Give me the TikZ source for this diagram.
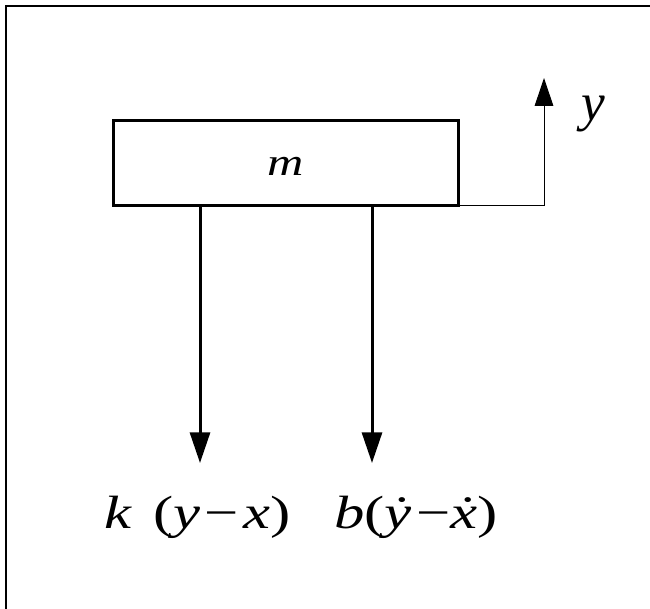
\documentclass[tikz,border=0pt]{standalone}
\usepackage{fontspec}
\setmainfont{Liberation Serif}
\newfontfamily\widefont[FakeStretch=1.3]{Liberation Serif}
\usetikzlibrary{arrows.meta}

\tikzset{
  force/.style={line width=2.25pt, -{Triangle[length=23pt,width=15pt]}},
  disp/.style={line width=0.75pt, -{Triangle[length=21pt,width=14pt]}},
  lbl/.style={inner sep=0pt, anchor=base west, font=\widefont\fontsize{35}{40}\selectfont}
}

\begin{document}
\begin{tikzpicture}[x=0.75pt,y=0.75pt,yscale=-1,xscale=1]
\useasboundingbox (0,0) rectangle (650,609);

%Straight Lines [frame]
\draw [line width=1.9pt]  (6,609) -- (6,6) -- (650,6) ;

%Shape: Rectangle [mass]
\node [draw, line width=2.25pt, outer sep=0pt, minimum width=258.75pt, minimum height=63.75pt, inner sep=0pt] (mass) at (285.5,163.5) {};
% Text Node
\node [inner sep=0pt, font=\widefont\fontsize{29}{32}\selectfont\itshape] (mlbl) at (285.5,166) {m};

\coordinate (kend) at (200,463);
\coordinate (bend) at (372,463);
\coordinate (ycorner) at (544,206);
\coordinate (ytip) at (544,78);

%Straight Lines [spring force]
\draw [force]  (kend |- mass.south) -- (kend) ;
%Straight Lines [damper force]
\draw [force]  (bend |- mass.south) -- (bend) ;
%Straight Lines [displacement]
\draw [disp]  (mass.south east) -- (ycorner) -- (ytip) ;

% Text Node
\node [lbl] (klbl) at (104,528) {\textit{k}\hspace{0.45em}(\textit{y}\hspace{0.1em}−\hspace{0.1em}\textit{x})};
% Text Node
\node [lbl] (blbl) at (334,528) {\textit{b}(\textit{\.{y}}\hspace{0.1em}−\textit{\.{x}})};
% Text Node
\node [inner sep=0pt, anchor=base west, font=\fontsize{40}{44}\selectfont\itshape] (ylbl) at (581,121) {y};

\end{tikzpicture}
\end{document}
